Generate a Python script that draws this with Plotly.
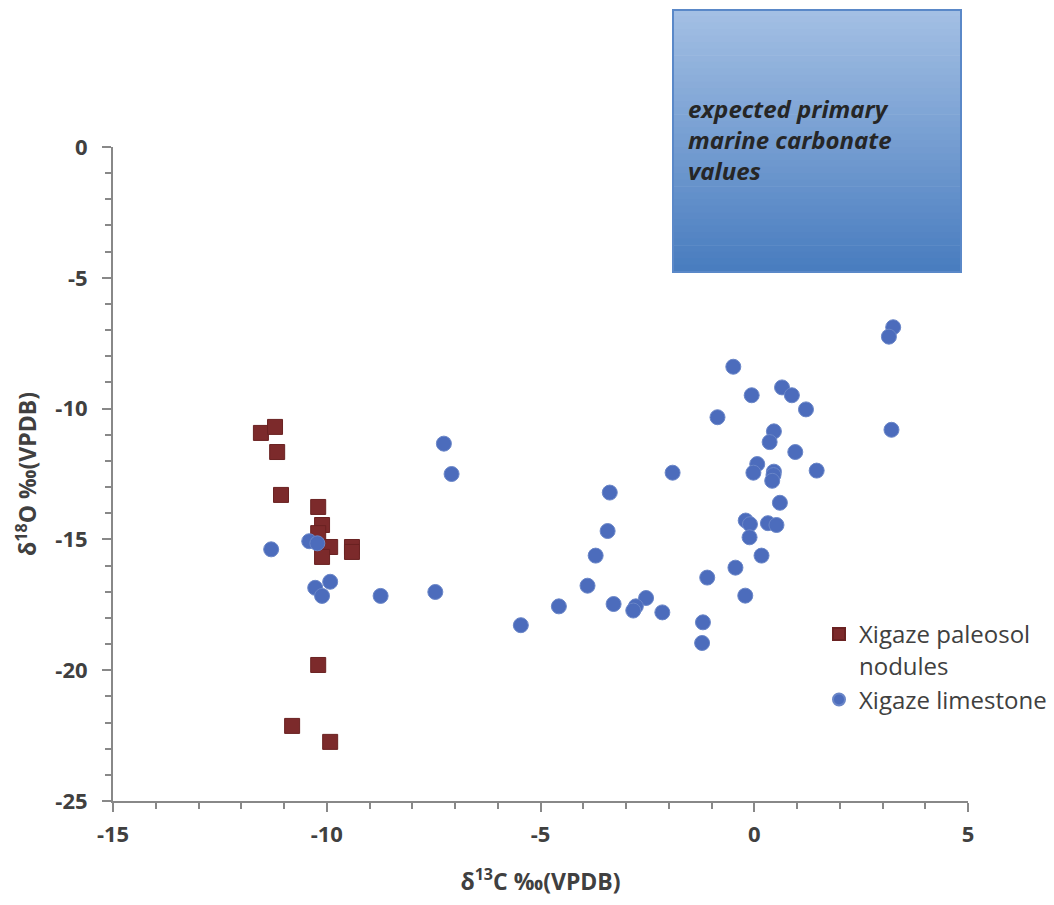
import plotly.graph_objects as go

# Xigaze paleosol nodules (d13C, d18O)
paleosol_c = [-11.54, -11.21, -11.16, -11.07, -10.20, -10.11, -10.20, -9.92, -10.11,
              -9.41, -9.41, -10.20, -10.81, -9.92]
paleosol_o = [-10.93, -10.70, -11.66, -13.30, -13.76, -14.45, -14.76, -15.29, -15.67,
              -15.29, -15.48, -19.80, -22.13, -22.74]

# Xigaze limestone (d13C, d18O)
limestone_c = [-7.26, -7.08, -11.30, -10.41, -10.22, -9.92, -10.27, -10.11, -8.74, -7.46,
               -0.49, 0.65, 0.88, -0.06, -0.86, 0.46, 0.36, 0.96, 0.07, -0.02,
               0.46, 0.45, 0.42, -1.91, -3.38, 0.60, -3.43, -0.20, -0.10, 0.32,
               0.52, -0.11, -3.71, 0.17, -0.44, -1.10, -3.90, -0.21, -4.57, -3.29,
               -2.53, -2.77, -2.83, -2.15, -5.46, -1.20, -1.22, 3.25, 3.15, 3.21,
               1.21, 1.46]
limestone_o = [-11.34, -12.50, -15.38, -15.07, -15.15, -16.62, -16.85, -17.16, -17.16, -17.01,
               -8.40, -9.19, -9.49, -9.49, -10.33, -10.87, -11.28, -11.66, -12.12, -12.45,
               -12.41, -12.54, -12.76, -12.45, -13.21, -13.60, -14.68, -14.28, -14.42, -14.38,
               -14.45, -14.92, -15.62, -15.62, -16.08, -16.46, -16.77, -17.15, -17.56, -17.47,
               -17.24, -17.56, -17.72, -17.79, -18.28, -18.17, -18.96, -6.89, -7.25, -10.81,
               -10.03, -12.37]

x_ticks = [-15, -10, -5, 0, 5]
y_ticks = [0, -5, -10, -15, -20, -25]

FONT = "Open Sans"
TXT = "#404040"
AX = "#888888"

fig = go.Figure()
fig.add_trace(go.Scatter(
    x=paleosol_c, y=paleosol_o, mode="markers",
    name="Xigaze paleosol<br>nodules",
    marker=dict(symbol="square", size=15, color="#7c2a2b",
                line=dict(width=1, color="#6a2222")),
))
fig.add_trace(go.Scatter(
    x=limestone_c, y=limestone_o, mode="markers",
    name="Xigaze limestone",
    marker=dict(symbol="circle", size=15, color="#4c6cbc",
                line=dict(width=1, color="#6a86c8")),
))

# gradient box "expected primary marine carbonate values"
x0p, x1p = (673 - 113) / 855, (961 - 113) / 855
y1p, y0p = (801 - 10) / 654, (801 - 272) / 654
top = (164, 192, 228)
bot = (72, 124, 191)
n = 40
shapes = []
for i in range(n):
    t = (i + 0.5) / n
    c = tuple(int(round(top[k] + (bot[k] - top[k]) * t)) for k in range(3))
    ya = y1p - (y1p - y0p) * i / n
    yb = y1p - (y1p - y0p) * (i + 1) / n
    shapes.append(dict(type="rect", xref="paper", yref="paper",
                       x0=x0p, x1=x1p, y0=yb, y1=ya + 0.001,
                       fillcolor="rgb(%d,%d,%d)" % c, line=dict(width=0),
                       layer="below"))
shapes.append(dict(type="rect", xref="paper", yref="paper",
                   x0=x0p, x1=x1p, y0=y0p, y1=y1p,
                   fillcolor="rgba(0,0,0,0)", line=dict(width=2, color="#5a88c8"),
                   layer="below"))

fig.update_layout(
    width=1054, height=905,
    margin=dict(l=113, r=86, t=147, b=104, autoexpand=False),
    paper_bgcolor="white", plot_bgcolor="white",
    font=dict(family=FONT, color=TXT),
    shapes=shapes,
    showlegend=True,
    legend=dict(x=(819 - 113) / 855, y=(801 - 612) / 654, xanchor="left", yanchor="top",
                font=dict(family=FONT, size=24, color=TXT),
                bgcolor="rgba(0,0,0,0)", valign="top",
                itemsizing="constant", tracegroupgap=0),
    annotations=[dict(
        xref="paper", yref="paper", x=(686 - 113) / 855, y=(801 - 90) / 654,
        xanchor="left", yanchor="top", align="left", showarrow=False,
        text="<b><i>expected primary<br>marine carbonate<br>values</i></b>",
        font=dict(family=FONT, size=24, color="#262626"),
    )],
    xaxis=dict(
        range=[-15, 5], tickvals=x_ticks, ticktext=[str(v) for v in x_ticks],
        showgrid=False, zeroline=False, showline=True, linecolor=AX, linewidth=2,
        ticks="outside", ticklen=9, tickwidth=2, tickcolor=AX,
        minor=dict(dtick=1, ticks="outside", ticklen=6, tickwidth=2, tickcolor=AX),
        tickfont=dict(family=FONT, size=22, color=TXT, weight="bold"),
        ticklabelstandoff=4,
        title=dict(text="<b>δ<sup>13</sup>C ‰(VPDB)</b>", standoff=26,
                   font=dict(family=FONT, size=23, color=TXT)),
    ),
    yaxis=dict(
        range=[-25, 0], tickvals=y_ticks, ticktext=[str(v) for v in y_ticks],
        showgrid=False, zeroline=False, showline=True, linecolor=AX, linewidth=2,
        ticks="outside", ticklen=9, tickwidth=2, tickcolor=AX,
        minor=dict(dtick=1, ticks="outside", ticklen=6, tickwidth=2, tickcolor=AX),
        tickfont=dict(family=FONT, size=22, color=TXT, weight="bold"),
        ticklabelstandoff=10,
        title=dict(text="<b>δ<sup>18</sup>O ‰(VPDB)</b>", standoff=12,
                   font=dict(family=FONT, size=23, color=TXT)),
    ),
)

fig.write_html("out.html")
